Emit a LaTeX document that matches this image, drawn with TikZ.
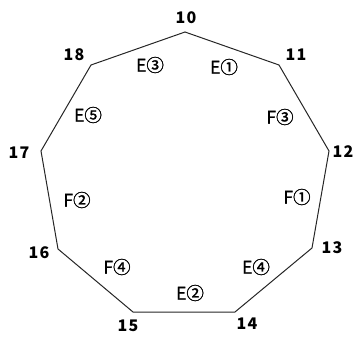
\documentclass[tikz,border=0pt]{standalone}
\usepackage{fontspec}
\setmainfont{Noto Sans CJK JP}[LetterSpace=8]
\newfontfamily\elabfont{Noto Sans CJK JP}[FakeBold=1.2]
\begin{document}
\begin{tikzpicture}[x=1pt,y=-1pt,
  vlab/.style={font=\fontsize{16}{16}\selectfont\bfseries, inner sep=0pt},
  elab/.style={font=\elabfont\fontsize{17.5}{17.5}\selectfont, inner sep=0pt},
  edge/.style={line width=1pt, black!85}]
\useasboundingbox (0,0) rectangle (354,337);
\coordinate (v10) at (185,32);
\coordinate (v11) at (279,65);
\coordinate (v12) at (329,151);
\coordinate (v13) at (312,248);
\coordinate (v14) at (235,312);
\coordinate (v15) at (133,312);
\coordinate (v16) at (58,249);
\coordinate (v17) at (41,151);
\coordinate (v18) at (91,65);
\draw[edge] (v10) -- (v11) -- (v12) -- (v13) -- (v14) -- (v15) -- (v16) -- (v17) -- (v18) -- cycle;
\node[vlab] (l10) at (186,18) {10};
\node[vlab] (l11) at (296,55) {11};
\node[vlab] (l12) at (343,152) {12};
\node[vlab] (l13) at (332,248) {13};
\node[vlab] (l14) at (247,324) {14};
\node[vlab] (l15) at (128,326) {15};
\node[vlab] (l16) at (39,253) {16};
\node[vlab] (l17) at (19,153) {17};
\node[vlab] (l18) at (74,55) {18};
\node[elab] (e3) at (150,65) {E③};
\node[elab] (e1) at (224,67) {E①};
\node[elab] (f3) at (280,117) {F③};
\node[elab] (e5) at (88,115) {E⑤};
\node[elab] (f2) at (77,200) {F②};
\node[elab] (f1) at (297,197) {F①};
\node[elab] (f4) at (117,267) {F④};
\node[elab] (e4) at (256,267) {E④};
\node[elab] (e2) at (190,293) {E②};
\end{tikzpicture}
\end{document}
